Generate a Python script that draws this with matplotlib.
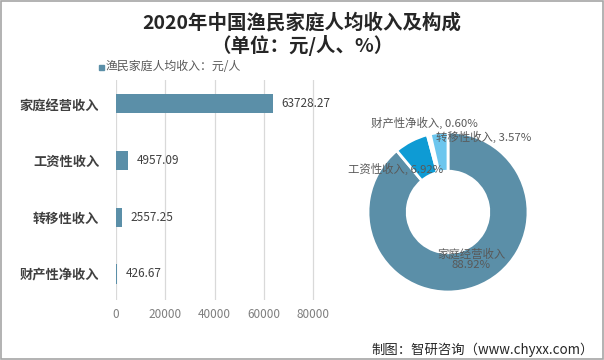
import matplotlib
matplotlib.use("Agg")
import matplotlib.pyplot as plt
from matplotlib.patches import Rectangle

plt.rcParams['font.family'] = ['Noto Sans CJK SC', 'DejaVu Sans']

# data
categories = ["家庭经营收入", "工资性收入", "转移性收入", "财产性净收入"]
values = [63728.27, 4957.09, 2557.25, 426.67]
value_labels = ["63728.27", "4957.09", "2557.25", "426.67"]
x_ticks = [0, 20000, 40000, 60000, 80000]

# pie order (clockwise from top)
pie_names = ["家庭经营收入", "工资性收入", "财产性净收入", "转移性收入"]
pie_values = [63728.27, 4957.09, 426.67, 2557.25]
pie_colors = ["#5b8fa8", "#0e9bd4", "#cde9f7", "#6cc6ee"]

bar_color = "#5b8fa8"
text_dark = "#404040"
grey = "#7f7f7f"

fig = plt.figure(figsize=(6.04, 3.6), dpi=100)

# frame around figure
fig.patches.append(Rectangle((0.001, 0.002), 0.997, 0.996, transform=fig.transFigure,
                             fill=False, edgecolor="#a6a6a6", linewidth=1.2))

fig.text(0.5, 0.938, "2020年中国渔民家庭人均收入及构成", ha="center", va="center",
         fontsize=14, fontweight="bold", color="#262626")
fig.text(0.5, 0.875, "（单位：元/人、%）", ha="center", va="center",
         fontsize=14, fontweight="bold", color="#262626")

# legend marker
fig.patches.append(Rectangle((99 / 604, 1 - 70 / 360), 5 / 604, 5 / 360,
                             transform=fig.transFigure, color=bar_color))
fig.text(106 / 604, 1 - 67 / 360, "渔民家庭人均收入：元/人", ha="left", va="center",
         fontsize=8.6, color="#595959")

# bar chart
ax = fig.add_axes([116 / 604, 1 - 300 / 360, 212 / 604, 220 / 360])
ypos = list(range(len(categories)))[::-1]
ax.barh(ypos, values, height=0.34, color=bar_color, zorder=3)
for y, v, lab in zip(ypos, values, value_labels):
    ax.text(v + 3500, y, lab, ha="left", va="center", fontsize=8.5, color=text_dark)
ax.set_xlim(0, 86000)
ax.set_ylim(-0.46, 3.42)
ax.set_xticks(x_ticks)
ax.set_xticklabels([str(t) for t in x_ticks], fontsize=8.5, color=grey)
ax.set_yticks(ypos)
ax.set_yticklabels(categories, fontsize=9.5, fontweight="bold", color=text_dark)
ax.tick_params(axis="both", length=0)
ax.tick_params(axis="y", pad=12)
ax.tick_params(axis="x", pad=6)
ax.grid(axis="x", color="#d9d9d9", linewidth=0.9, zorder=0)
for s in ax.spines.values():
    s.set_visible(False)

# donut
ax2 = fig.add_axes([348 / 604, 1 - 312 / 360, 200 / 604, 200 / 360])
ax2.pie(pie_values, colors=pie_colors, startangle=90, counterclock=False,
        wedgeprops=dict(width=0.49, edgecolor="white", linewidth=2))
ax2.set_xlim(-1.25, 1.25)
ax2.set_ylim(-1.25, 1.25)
ax2.set_aspect("equal")
ax2.axis("off")

total = sum(pie_values)
pcts = ["{:.2f}%".format(v / total * 100) for v in pie_values]
lab_style = dict(fontsize=8.2, color="#595959", ha="center", va="center")
ax2.text(0.29, -0.59, pie_names[0] + "\n" + pcts[0], linespacing=1.05, **lab_style)
ax2.text(-0.66, 0.54, pie_names[1] + ", " + pcts[1], **lab_style)
ax2.text(-0.30, 1.11, pie_names[2] + ", " + pcts[2], **lab_style)
ax2.text(0.44, 0.94, pie_names[3] + ", " + pcts[3], **lab_style)

fig.text(594 / 604, 1 - 350 / 360, "制图：智研咨询（www.chyxx.com）", ha="right", va="center",
         fontsize=9.6, color="#262626")

fig.savefig("out.png", dpi=100)
